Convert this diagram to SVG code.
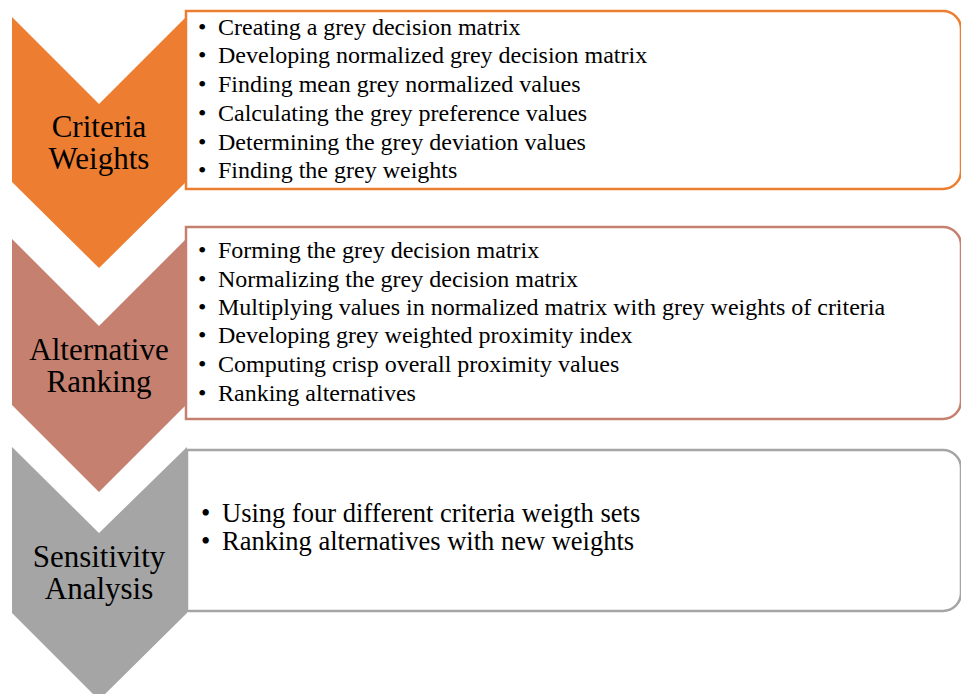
<svg xmlns="http://www.w3.org/2000/svg" width="961" height="694" viewBox="0 0 961 694">
<style>
.lbl{font-family:"Liberation Serif","Times New Roman",serif;font-size:31px;fill:#000;text-anchor:middle}
.it{font-family:"Liberation Serif","Times New Roman",serif;font-size:24px;fill:#000}
.it3{font-family:"Liberation Serif","Times New Roman",serif;font-size:26.5px;fill:#000}
.box{fill:#fff;stroke-width:2.5}
</style>
<rect width="961" height="694" fill="#fff"/>
<g id="criteria-weights">
<path d="M12,17 L99,104 L186,17 L186,182 L99,268 L12,182 Z" fill="#ED7D31"/>
<text class="lbl"><tspan x="99" y="137">Criteria</tspan><tspan x="99" y="169">Weights</tspan></text>
</g>
<g id="criteria-weights-steps">
<path class="box" d="M186,11 H943 A18,18 0 0 1 961,29 V171 A18,18 0 0 1 943,189 H186 Z" stroke="#ED7D31"/>
<text class="it"><tspan x="198" y="35">•</tspan><tspan x="218" y="35">Creating a grey decision matrix</tspan></text>
<text class="it"><tspan x="198" y="63">•</tspan><tspan x="218" y="63">Developing normalized grey decision matrix</tspan></text>
<text class="it"><tspan x="198" y="92">•</tspan><tspan x="218" y="92">Finding mean grey normalized values</tspan></text>
<text class="it"><tspan x="198" y="121">•</tspan><tspan x="218" y="121">Calculating the grey preference values</tspan></text>
<text class="it"><tspan x="198" y="150">•</tspan><tspan x="218" y="150">Determining the grey deviation values</tspan></text>
<text class="it"><tspan x="198" y="178">•</tspan><tspan x="218" y="178">Finding the grey weights</tspan></text>
</g>
<g id="alternative-ranking">
<path d="M12,239 L99,326 L186,239 L186,405 L99,492 L12,405 Z" fill="#C5806F"/>
<text class="lbl"><tspan x="99" y="360">Alternative</tspan><tspan x="99" y="392">Ranking</tspan></text>
</g>
<g id="alternative-ranking-steps">
<path class="box" d="M186,227 H943 A18,18 0 0 1 961,245 V401 A18,18 0 0 1 943,419 H186 Z" stroke="#C5806F"/>
<text class="it"><tspan x="198" y="258">•</tspan><tspan x="218" y="258">Forming the grey decision matrix</tspan></text>
<text class="it"><tspan x="198" y="287">•</tspan><tspan x="218" y="287">Normalizing the grey decision matrix</tspan></text>
<text class="it"><tspan x="198" y="315">•</tspan><tspan x="218" y="315">Multiplying values in normalized matrix with grey weights of criteria</tspan></text>
<text class="it"><tspan x="198" y="343">•</tspan><tspan x="218" y="343">Developing grey weighted proximity index</tspan></text>
<text class="it"><tspan x="198" y="372">•</tspan><tspan x="218" y="372">Computing crisp overall proximity values</tspan></text>
<text class="it"><tspan x="198" y="401">•</tspan><tspan x="218" y="401">Ranking alternatives</tspan></text>
</g>
<g id="sensitivity-analysis">
<path d="M12,447 L99,533 L187,447 L187,613 L99,700 L12,613 Z" fill="#A5A5A5"/>
<text class="lbl"><tspan x="99" y="567">Sensitivity</tspan><tspan x="99" y="599">Analysis</tspan></text>
</g>
<g id="sensitivity-analysis-steps">
<path class="box" d="M187,450 H943 A18,18 0 0 1 961,468 V593 A18,18 0 0 1 943,611 H187 Z" stroke="#A5A5A5"/>
<text class="it3"><tspan x="201" y="522">•</tspan><tspan x="222" y="522">Using four different criteria weigth sets</tspan></text>
<text class="it3"><tspan x="201" y="550">•</tspan><tspan x="222" y="550">Ranking alternatives with new weights</tspan></text>
</g>
<g id="connectors"></g>
</svg>
